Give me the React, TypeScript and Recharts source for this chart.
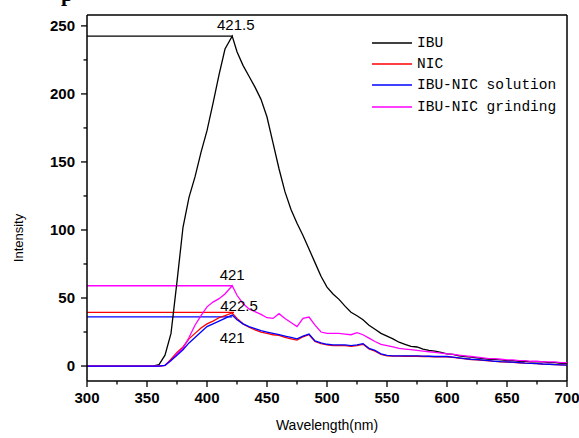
import { LineChart, Line, XAxis, YAxis, ReferenceLine, ReferenceDot, Legend } from 'recharts'

// emission wavelengths (nm), 5 nm steps with the 421 nm peak point
const wavelengths = [
  300, 305, 310, 315, 320, 325, 330, 335, 340, 345,
  350, 355, 360, 365, 370, 375, 380, 385, 390, 395,
  400, 405, 410, 415, 421, 425, 430, 435, 440, 445,
  450, 455, 460, 465, 470, 475, 480, 485, 490, 495,
  500, 505, 510, 515, 520, 525, 530, 535, 540, 545,
  550, 555, 560, 565, 570, 575, 580, 585, 590, 595,
  600, 605, 610, 615, 620, 625, 630, 635, 640, 645,
  650, 655, 660, 665, 670, 675, 680, 685, 690, 695,
  700,
]

const ibu = [
  0, 0, 0, 0, 0, 0, 0, 0, 0, 0,
  0, 0, 1, 8, 24, 62, 102, 124, 139, 157,
  173, 193, 214, 233, 242.5, 231, 221, 213, 205, 196,
  183, 164, 145, 128, 115, 105, 96, 86, 76, 66,
  58, 53, 49, 44, 39.5, 37, 34, 30, 27, 24,
  22, 20, 17.5, 16, 14.5, 14, 12.5, 11.5, 11, 10,
  9, 8.5, 7.5, 7, 6.5, 6, 5.5, 5, 5, 4.5,
  4, 4, 3.5, 3.5, 3, 3, 3, 2.5, 2.5, 2,
  2,
]

const nic = [
  0, 0, 0, 0, 0, 0, 0, 0, 0, 0,
  0, 0, 0, 0.5, 5, 10, 14, 20, 24, 28,
  31, 33, 35.5, 37, 39, 35, 31, 28.5, 26.5, 25,
  24, 23, 22.5, 21, 20, 19, 21.5, 23, 18, 16.5,
  15.5, 15, 15, 15, 14.5, 15, 16, 12.5, 11, 8.5,
  7.5, 7.3, 7.3, 7.2, 7.2, 7.2, 7, 7, 6.8, 6.8,
  6.8, 6.3, 5.8, 5.3, 4.8, 4.6, 4.2, 3.8, 3.4, 3.1,
  2.9, 2.7, 2.4, 2.1, 1.9, 1.7, 1.4, 1.2, 1, 0.8,
  0.6,
]

const solution = [
  0, 0, 0, 0, 0, 0, 0, 0, 0, 0,
  0, 0, 0, 0.5, 4, 8, 12, 17, 21, 25,
  29, 31, 33, 35, 37.5, 34, 31, 29, 27.5, 26,
  25, 24, 23, 22, 21, 20, 22, 23.5, 18.5, 17,
  16, 15.5, 15.5, 15.5, 15, 15.5, 16.5, 13, 11.5, 9,
  7.8, 7.5, 7.5, 7.5, 7.5, 7.5, 7.3, 7.2, 7, 7,
  7, 6.5, 6, 5.5, 5, 4.8, 4.4, 4, 3.5, 3.2,
  3, 2.8, 2.5, 2.2, 2, 1.8, 1.5, 1.3, 1.1, 0.9,
  0.7,
]

const grinding = [
  0, 0, 0, 0, 0, 0, 0, 0, 0, 0,
  0, 0, 0, 0.5, 4, 9, 13, 21, 30, 37,
  43.5, 47, 49.5, 53, 59, 52, 46, 42, 40, 38,
  35.5, 35, 38.5, 35, 32, 29, 35, 36, 30, 25,
  24, 24, 24, 23.5, 23, 24.5, 23, 20.5, 18, 16,
  15, 14, 13, 12.5, 12, 11.5, 11, 10.5, 10, 9.5,
  9, 8.5, 8, 7.5, 7, 6.5, 6, 5.5, 5.5, 5,
  4.5, 4.5, 4, 4, 3.5, 3.5, 3, 3, 3, 2.5,
  2.5,
]

const xTicks = [300, 325, 350, 375, 400, 425, 450, 475, 500, 525, 550, 575, 600, 625, 650, 675, 700]
const yTicks = [0, 25, 50, 75, 100, 125, 150, 175, 200, 225, 250]
const xDomain = [300, 700]
const yDomain = [-11, 258]

const seriesList = [
  { key: 'ibu', name: 'IBU', color: '#000000' },
  { key: 'nic', name: 'NIC', color: '#ff0000' },
  { key: 'grinding', name: 'IBU-NIC grinding', color: '#ff00ff' },
  { key: 'solution', name: 'IBU-NIC solution', color: '#0000ff' },
]
const legendOrder = ['ibu', 'nic', 'solution', 'grinding']

// peak markers: horizontal line from the axis to the peak and its wavelength
const peaks = [
  { key: 'ibu', wl: 421.5, value: 242.5, label: '421.5', color: '#000000', pos: 'top', offset: 6, dx: 3 },
  { key: 'grinding', wl: 421, value: 59, label: '421', color: '#ff00ff', pos: 'top', offset: 6, dx: 0 },
  { key: 'nic', wl: 422.5, value: 39.5, label: '422.5', color: '#ff0000', pos: 'top', offset: 1, dx: 5 },
  { key: 'solution', wl: 421, value: 36.2, label: '421', color: '#0000ff', pos: 'bottom', offset: 16, dx: 0 },
]

const rows = wavelengths.map((wl, i) => ({
  wl,
  ibu: ibu[i],
  nic: nic[i],
  solution: solution[i],
  grinding: grinding[i],
}))

function XTick({ x, y, payload }: any) {
  const major = payload.value % 50 === 0
  return (
    <g>
      <line x1={x} y1={y} x2={x} y2={y + (major ? 6 : 3.5)} stroke="#000" strokeWidth={1.3} />
      {major && (
        <text x={x} y={y + 22} textAnchor="middle" fontSize={15} fontWeight="bold" fill="#000">
          {payload.value}
        </text>
      )}
    </g>
  )
}

function YTick({ x, y, payload }: any) {
  const major = payload.value % 50 === 0
  return (
    <g>
      <line x1={x} y1={y} x2={x - (major ? 6 : 3.5)} y2={y} stroke="#000" strokeWidth={1.3} />
      {major && (
        <text x={x - 12} y={y + 5} textAnchor="end" fontSize={15} fontWeight="bold" fill="#000">
          {payload.value}
        </text>
      )}
    </g>
  )
}

function LegendBox() {
  return (
    <div style={{ fontFamily: '"Liberation Mono", monospace', fontSize: 14.5, color: '#000' }}>
      {legendOrder.map((k) => {
        const s = seriesList.find((d) => d.key === k)!
        return (
          <div key={k} style={{ display: 'flex', alignItems: 'center', height: 21.3, whiteSpace: 'nowrap' }}>
            <svg width={45} height={4} style={{ flex: 'none' }}>
              <line x1={0} y1={2} x2={40} y2={2} stroke={s.color} strokeWidth={1.5} />
            </svg>
            <span>{s.name}</span>
          </div>
        )
      })}
    </div>
  )
}

export default function App() {
  return (
    <div style={{ position: 'absolute', left: 0, top: 0, width: 579, height: 438, fontFamily: '"Liberation Sans", Arial, sans-serif' }}>
      <svg style={{ position: 'absolute', left: 0, top: 0 }} width={100} height={12}>
        <text x={61} y={0.5} fontFamily='"Liberation Serif", serif' fontWeight="bold" fontSize={22} fill="#000">p</text>
      </svg>
      <LineChart width={579} height={438} data={rows} margin={{ top: 15, right: 12, left: 0, bottom: 0 }}>
        <XAxis
          dataKey="wl"
          type="number"
          domain={xDomain}
          ticks={xTicks}
          interval={0}
          height={57}
          tickSize={0}
          tickMargin={0}
          tickLine={false}
          tick={<XTick />}
          axisLine={{ stroke: '#000', strokeWidth: 1.5 }}
          label={{ value: 'Wavelength(nm)', position: 'insideBottom', offset: 8, fill: '#000', fontSize: 14 }}
        />
        <YAxis
          type="number"
          domain={yDomain}
          ticks={yTicks}
          interval={0}
          width={87}
          tickSize={0}
          tickMargin={0}
          tickLine={false}
          tick={<YTick />}
          axisLine={{ stroke: '#000', strokeWidth: 1.5 }}
          label={{ value: 'Intensity', angle: -90, position: 'center', dx: -25, dy: 40, fill: '#000', fontSize: 13 }}
        />
        <ReferenceLine y={yDomain[1]} stroke="#000" strokeWidth={1.5} />
        <ReferenceLine x={xDomain[1]} stroke="#000" strokeWidth={1.5} />
        {peaks.map((p) => (
          <ReferenceLine
            key={`seg-${p.key}`}
            segment={[{ x: xDomain[0], y: p.value }, { x: p.wl, y: p.value }]}
            stroke={p.color}
            strokeWidth={1.3}
          />
        ))}
        {seriesList.map((s) => (
          <Line
            key={s.key}
            dataKey={s.key}
            name={s.name}
            stroke={s.color}
            strokeWidth={1.3}
            dot={false}
            type="linear"
            isAnimationActive={false}
          />
        ))}
        {peaks.map((p) => (
          <ReferenceDot
            key={`lab-${p.key}`}
            x={p.wl}
            y={p.value}
            r={0}
            fill="none"
            stroke="none"
            label={{ value: p.label, position: p.pos as any, offset: p.offset, dx: p.dx, fill: '#000', fontSize: 15 }}
          />
        ))}
        <Legend
          layout="horizontal"
          verticalAlign="middle"
          align="center"
          content={<LegendBox />}
          wrapperStyle={{ top: 32, left: 372, width: 'auto' }}
        />
      </LineChart>
    </div>
  )
}
